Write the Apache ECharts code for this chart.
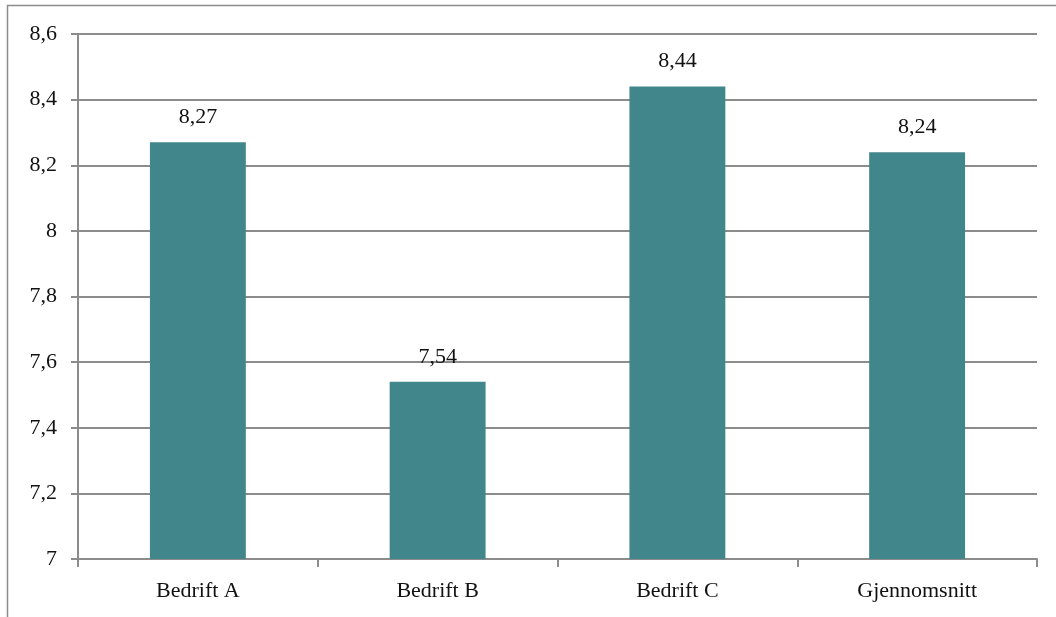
<!DOCTYPE html>
<html>
<head>
<meta charset="utf-8">
<script src="https://cdn.jsdelivr.net/npm/echarts@6/dist/echarts.min.js"></script>
<style>
  html, body { margin: 0; padding: 0; background: #fff; }
  #chart { width: 1056px; height: 617px; }
</style>
</head>
<body>
<div id="chart"></div>
<script>
// Score per company plus the overall average
const categories = ['Bedrift A', 'Bedrift B', 'Bedrift C', 'Gjennomsnitt'];
const scores = [8.27, 7.54, 8.44, 8.24];
const yTicks = [7, 7.2, 7.4, 7.6, 7.8, 8, 8.2, 8.4, 8.6];

const fmt = v => String(+v.toFixed(2)).replace('.', ',');
const serif = '"Liberation Serif", "DejaVu Serif", serif';
const gridColor = '#8c8c8c';

const chart = echarts.init(document.getElementById('chart'));
chart.setOption({
  animation: false,
  backgroundColor: '#fff',
  textStyle: { fontFamily: serif },
  graphic: [{
    type: 'rect',
    shape: { x: 7.5, y: 5.5, width: 1100, height: 700 },
    style: { fill: 'none', stroke: '#8c8c8c', lineWidth: 1.5 },
    silent: true,
    z: -1
  }],
  grid: { left: 78, right: 19, top: 34, bottom: 58, containLabel: false },
  xAxis: {
    type: 'category',
    data: categories,
    axisLine: { lineStyle: { color: gridColor, width: 2 } },
    axisTick: { show: true, length: 8, lineStyle: { color: gridColor, width: 2 } },
    axisLabel: { color: '#111', fontSize: 22, fontFamily: serif, margin: 21 }
  },
  yAxis: {
    type: 'value',
    min: yTicks[0],
    max: yTicks[yTicks.length - 1],
    interval: 0.2,
    axisLine: { show: true, lineStyle: { color: gridColor, width: 2 } },
    axisTick: { show: true, length: 7, lineStyle: { color: gridColor, width: 2 } },
    splitLine: { lineStyle: { color: gridColor, width: 2 } },
    axisLabel: { color: '#111', fontSize: 22, fontFamily: serif, margin: 21, formatter: fmt }
  },
  series: [{
    type: 'bar',
    data: scores,
    barWidth: '40%',
    itemStyle: { color: '#40868a' },
    label: {
      show: true,
      position: 'top',
      distance: 14,
      color: '#111',
      fontSize: 22,
      fontFamily: serif,
      formatter: p => fmt(p.value)
    }
  }]
});
</script>
</body>
</html>
